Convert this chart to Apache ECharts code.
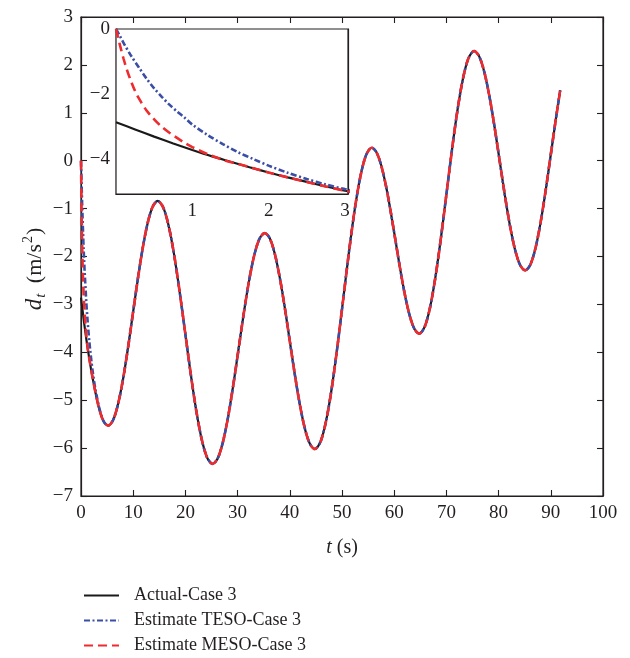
<!DOCTYPE html>
<html>
<head>
<meta charset="utf-8">
<script src="https://cdn.jsdelivr.net/npm/echarts@6/dist/echarts.min.js"></script>
<style>html,body{margin:0;padding:0;background:#fff}#c{width:630px;height:658px}</style>
</head>
<body>
<div id="c"></div>
<script>
// ---- data ----
const seriesNames = ['Actual-Case 3', 'Estimate TESO-Case 3', 'Estimate MESO-Case 3'];
const xTickValues = [0, 10, 20, 30, 40, 50, 60, 70, 80, 90, 100];
const yTickValues = [-7, -6, -5, -4, -3, -2, -1, 0, 1, 2, 3];
const insetXLabels = [1, 2, 3];
const insetYLabels = [0, -2, -4];
const insetYTicks = [-2, -4];

// start of each curve (t < 5.2 s)
const actualHead = [[0,-2.86],[0.25,-3.08],[0.5,-3.3],[0.75,-3.51],[1,-3.71],[1.25,-3.9],[1.5,-4.07],[1.75,-4.24],[2,-4.4],[2.25,-4.55],[2.5,-4.69],[2.75,-4.83],[3,-4.96],[3.5,-5.19],[4,-5.36],[4.5,-5.47]];
const tesoHead = [[0,0],[0.05,-0.21],[0.1,-0.43],[0.2,-0.83],[0.3,-1.18],[0.4,-1.52],[0.5,-1.82],[0.6,-2.08],[0.7,-2.32],[0.8,-2.53],[0.9,-2.72],[1,-2.93],[1.2,-3.25],[1.4,-3.53],[1.6,-3.78],[1.8,-3.99],[2,-4.19],[2.25,-4.41],[2.5,-4.6],[2.75,-4.77],[3,-4.91],[3.5,-5.16],[4,-5.35],[4.5,-5.47]];
const mesoHead = [[0,0],[0.05,-0.48],[0.1,-0.92],[0.15,-1.3],[0.2,-1.62],[0.25,-1.9],[0.3,-2.13],[0.4,-2.5],[0.5,-2.77],[0.6,-3.0],[0.7,-3.18],[0.8,-3.34],[0.9,-3.49],[1,-3.62],[1.2,-3.84],[1.4,-4.01],[1.6,-4.14],[1.8,-4.27],[2,-4.4],[2.25,-4.55],[2.5,-4.69],[2.75,-4.83],[3,-4.96],[3.5,-5.19],[4,-5.36],[4.5,-5.47]];

// common oscillating part where the three curves coincide
const commonTail = [[5.2,-5.53],[6.15,-5.415],[7.1,-5.082],[8.05,-4.563],[9,-3.91],[9.95,-3.185],[10.9,-2.46],[11.85,-1.807],[12.8,-1.288],[13.75,-0.955],[14.7,-0.84],
[15.75,-0.975],[16.8,-1.364],[17.85,-1.971],[18.9,-2.737],[19.95,-3.585],[21,-4.433],[22.05,-5.198],[23.1,-5.806],[24.15,-6.195],[25.2,-6.33],
[26.2,-6.212],[27.2,-5.87],[28.2,-5.337],[29.2,-4.665],[30.2,-3.92],[31.2,-3.175],[32.2,-2.503],[33.2,-1.97],[34.2,-1.628],[35.2,-1.51],
[36.16,-1.62],[37.12,-1.941],[38.08,-2.44],[39.04,-3.068],[40,-3.765],[40.96,-4.462],[41.92,-5.09],[42.88,-5.589],[43.84,-5.909],[44.8,-6.02],
[45.89,-5.866],[46.98,-5.419],[48.07,-4.724],[49.16,-3.847],[50.25,-2.875],[51.34,-1.903],[52.43,-1.026],[53.52,-0.331],[54.61,0.116],[55.7,0.27],
[56.61,0.175],[57.52,-0.101],[58.43,-0.53],[59.34,-1.071],[60.25,-1.67],[61.16,-2.269],[62.07,-2.81],[62.98,-3.239],[63.89,-3.515],[64.8,-3.61],
[65.85,-3.465],[66.9,-3.047],[67.95,-2.394],[69,-1.572],[70.05,-0.66],[71.1,0.252],[72.15,1.074],[73.2,1.727],[74.25,2.145],[75.3,2.29],
[76.28,2.178],[77.26,1.853],[78.24,1.346],[79.22,0.708],[80.2,0],[81.18,-0.708],[82.16,-1.346],[83.14,-1.853],[84.12,-2.178],[85.1,-2.29],
[86.08,-2.171],[87.06,-1.828],[88.04,-1.292],[89.02,-0.618],[90,0.13],[90.98,0.878],[91.8,1.47]];

const actualData = actualHead.concat(commonTail);
const tesoData = tesoHead.concat(commonTail);
const mesoData = mesoHead.concat(commonTail);

// ---- styling ----
const FONT = '"Liberation Serif", "DejaVu Serif", "Times New Roman", serif';
const INK = '#231f20';
const BLACK = '#1a1a1a';
const BLUE = '#3a4ea5';
const RED = '#ee2b2e';
const minus = v => String(v).replace('-', '\u2212');

const axisLine = { show: true, onZero: false, lineStyle: { color: INK, width: 1.2 } };
const tickIn = { show: true, inside: true, length: 6, lineStyle: { color: INK, width: 1.1 } };
const labelStyle = { color: INK, fontFamily: FONT, fontSize: 19 };

function styleFor(i) {
  if (i === 0) return { color: BLACK, width: 2.2, type: 'solid' };
  if (i === 1) return { color: BLUE, width: 2.6, type: [6, 2.5, 2, 2.5] };
  return { color: RED, width: 2.6, type: [9, 5] };
}
const datasets = [actualData, tesoData, mesoData];

const series = [];
[0, 1, 2].forEach(i => {
  series.push({
    name: seriesNames[i], type: 'line', xAxisIndex: 0, yAxisIndex: 0,
    data: datasets[i], symbol: 'none', showSymbol: false, smooth: 0.3, clip: true,
    lineStyle: styleFor(i), itemStyle: { color: styleFor(i).color },
    z: 2 + i, animation: false
  });
});
[0, 1, 2].forEach(i => {
  series.push({
    name: 'inset-' + i, type: 'line', xAxisIndex: 2, yAxisIndex: 2,
    data: datasets[i], symbol: 'none', showSymbol: false, smooth: 0.3, clip: true,
    lineStyle: styleFor(i), itemStyle: { color: styleFor(i).color }, z: 12 + i, animation: false
  });
});

const option = {
  backgroundColor: '#fff',
  animation: false,
  grid: [
    { left: 81, right: 27, top: 17, bottom: 162, containLabel: false,
      show: true, borderColor: INK, borderWidth: 1.2, backgroundColor: 'transparent' },
    { left: 116, width: 232, top: 29, height: 165, containLabel: false,
      show: true, backgroundColor: '#fff', borderColor: INK, borderWidth: 1.2, z: 5 }
  ],
  xAxis: [
    { type: 'value', gridIndex: 0, position: 'bottom', min: 0, max: 100, interval: 10,
      axisLine, axisTick: tickIn, splitLine: { show: false },
      axisLabel: { ...labelStyle, margin: 8, formatter: minus },
      name: '{i|t} (s)', nameLocation: 'middle', nameGap: 42,
      nameTextStyle: { color: INK, fontFamily: FONT, fontSize: 20,
        rich: { i: { fontFamily: FONT, fontSize: 20, fontStyle: 'italic', color: INK } } }
    },
    { type: 'value', gridIndex: 0, position: 'top', min: 0, max: 100, interval: 10,
      axisLine, axisTick: tickIn, splitLine: { show: false }, axisLabel: { show: false } },
    { type: 'value', gridIndex: 1, position: 'bottom', min: 0, max: 3.04,
      axisLine, axisTick: { ...tickIn, customValues: insetXLabels }, splitLine: { show: false },
      axisLabel: { ...labelStyle, margin: 8, customValues: insetXLabels, formatter: minus } },
    { type: 'value', gridIndex: 1, position: 'top', min: 0, max: 3.04,
      axisLine, axisTick: { ...tickIn, customValues: insetXLabels }, splitLine: { show: false },
      axisLabel: { show: false } }
  ],
  yAxis: [
    { type: 'value', gridIndex: 0, position: 'left', min: -7, max: 3, interval: 1,
      axisLine, axisTick: tickIn, splitLine: { show: false },
      axisLabel: { ...labelStyle, margin: 8, formatter: minus } },
    { type: 'value', gridIndex: 0, position: 'right', min: -7, max: 3, interval: 1,
      axisLine, axisTick: tickIn, splitLine: { show: false }, axisLabel: { show: false } },
    { type: 'value', gridIndex: 1, position: 'left', min: -5.06, max: 0,
      axisLine, axisTick: { ...tickIn, customValues: insetYTicks }, splitLine: { show: false },
      axisLabel: { ...labelStyle, margin: 6, customValues: insetYLabels, formatter: minus } },
    { type: 'value', gridIndex: 1, position: 'right', min: -5.06, max: 0,
      axisLine, axisTick: { ...tickIn, customValues: insetYTicks }, splitLine: { show: false },
      axisLabel: { show: false } }
  ],
  legend: {
    data: seriesNames,
    orient: 'vertical', left: 83, top: 586, height: 120, padding: 0,
    itemWidth: 35, itemHeight: 14, itemGap: 6,
    itemStyle: { opacity: 0 },
    textStyle: { color: INK, fontFamily: FONT, fontSize: 18, lineHeight: 19, padding: [0, 0, 0, 10] },
    selectedMode: false
  },
  graphic: [
    { type: 'text', x: 35, y: 269, rotation: Math.PI / 2,
      style: {
        text: '{i|d}{s|t}{n| (m/s}{p|2}{n|)}',
        fill: INK, align: 'center', verticalAlign: 'middle',
        rich: {
          i: { fontFamily: FONT, fontSize: 23, fontStyle: 'italic', fill: INK, lineHeight: 28, verticalAlign: 'middle' },
          s: { fontFamily: FONT, fontSize: 15, fontStyle: 'italic', fill: INK, lineHeight: 28, verticalAlign: 'bottom', padding: [0, 5, 0, 1] },
          n: { fontFamily: FONT, fontSize: 22, fill: INK, lineHeight: 28, verticalAlign: 'middle' },
          p: { fontFamily: FONT, fontSize: 14, fill: INK, lineHeight: 28, verticalAlign: 'top', padding: [0, 1, 0, 1] }
        }
      }
    }
  ],
  series
};

const chart = echarts.init(document.getElementById('c'), null, { renderer: 'canvas' });
chart.setOption(option);
</script>
</body>
</html>
